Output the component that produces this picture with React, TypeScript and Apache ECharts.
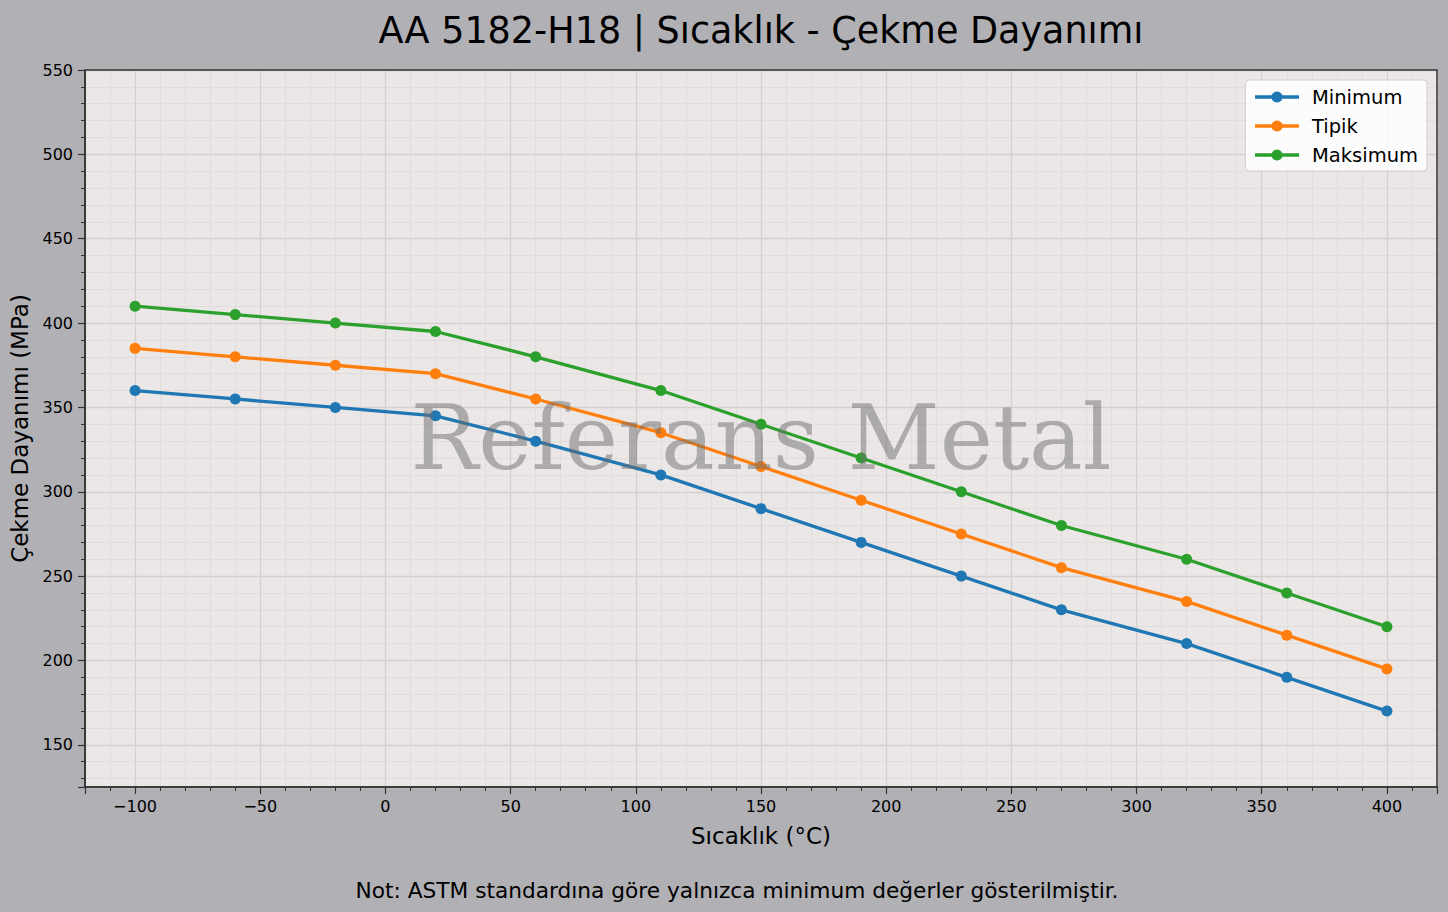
import React, { useEffect, useRef } from 'react';
import * as echarts from 'echarts';

const temperatures = [-100, -60, -20, 20, 60, 110, 150, 190, 230, 270, 320, 360, 400];
const minimumValues = [360, 355, 350, 345, 330, 310, 290, 270, 250, 230, 210, 190, 170];
const typicalValues = [385, 380, 375, 370, 355, 335, 315, 295, 275, 255, 235, 215, 195];
const maximumValues = [410, 405, 400, 395, 380, 360, 340, 320, 300, 280, 260, 240, 220];
const seriesNames = ['Minimum', 'Tipik', 'Maksimum'];
const seriesColors = ['#1f77b4', '#ff7f0e', '#2ca02c'];

const FONT = "'DejaVu Sans', sans-serif";

const App: React.FC = () => {
  const chartRef = useRef<HTMLDivElement>(null);

  useEffect(() => {
    document.body.style.margin = '0';
    if (!chartRef.current) return;
    const chart = echarts.init(chartRef.current, undefined, { renderer: 'svg' });

    const pairs = (vals: number[]) => temperatures.map((t, i) => [t, vals[i]]);
    const allValues = [minimumValues, typicalValues, maximumValues];

    const option = {
      animation: false,
      backgroundColor: '#b1b0b5',
      textStyle: { fontFamily: FONT },
      legend: {
        data: seriesNames,
        right: 21,
        top: 80,
        orient: 'vertical',
        itemWidth: 44,
        itemHeight: 14,
        itemGap: 9,
        padding: [7, 9, 6, 8],
        backgroundColor: 'rgba(255,255,255,0.85)',
        borderColor: '#d0d0d0',
        borderWidth: 1,
        borderRadius: 4,
        lineStyle: { width: 3.3 },
        textStyle: { fontFamily: FONT, fontSize: 19.5, color: '#000', padding: [0, 0, 0, 8] }
      },
      grid: {
        left: 85,
        right: 11,
        top: 70,
        bottom: 125,
        outerBoundsMode: 'none',
        containLabel: false,
        show: true,
        backgroundColor: '#ebe7e6',
        borderWidth: 0
      },
      xAxis: {
        type: 'value',
        min: -120,
        max: 420,
        splitNumber: 11,
        name: 'Sıcaklık (°C)',
        nameLocation: 'middle',
        nameGap: 37,
        nameTextStyle: { fontFamily: FONT, fontSize: 23, color: '#000' },
        axisLine: { show: true, onZero: false, lineStyle: { color: '#333', width: 1.5 } },
        axisTick: { show: true, length: 7, lineStyle: { color: '#333', width: 1.2 } },
        minorTick: { show: true, splitNumber: 5, length: 4, lineStyle: { color: '#333' } },
        axisLabel: {
          fontFamily: FONT,
          fontSize: 16,
          color: '#000',
          margin: 11,
          showMinLabel: false,
          showMaxLabel: false,
          formatter: (v: number) => String(v).replace('-', '\u2212')
        },
        splitLine: { show: true, lineStyle: { color: '#d4d0cf', width: 1.3 } },
        minorSplitLine: { show: true, lineStyle: { color: '#dfdbda', width: 0.8 } }
      },
      yAxis: {
        type: 'value',
        min: 125,
        max: 550,
        splitNumber: 8,
        name: 'Çekme Dayanımı (MPa)',
        nameLocation: 'middle',
        nameGap: 52,
        nameTextStyle: { fontFamily: FONT, fontSize: 23, color: '#000' },
        axisLine: { show: true, onZero: false, lineStyle: { color: '#333', width: 1.5 } },
        axisTick: { show: true, length: 7, lineStyle: { color: '#333', width: 1.2 } },
        minorTick: { show: true, splitNumber: 5, length: 4, lineStyle: { color: '#333' } },
        axisLabel: { fontFamily: FONT, fontSize: 16, color: '#000', margin: 12, showMinLabel: false },
        splitLine: { show: true, lineStyle: { color: '#d4d0cf', width: 1.3 } },
        minorSplitLine: { show: true, lineStyle: { color: '#dfdbda', width: 0.8 } }
      },
      series: seriesNames.map((name, i) => ({
        name,
        type: 'line',
        data: pairs(allValues[i]),
        color: seriesColors[i],
        lineStyle: { width: 3.3 },
        symbol: 'circle',
        symbolSize: 11,
        showSymbol: true,
        z: 3 + i
      })),
      graphic: [
        {
          type: 'rect',
          shape: { x: 85, y: 70, width: 1352, height: 717 },
          style: { fill: 'none', stroke: '#333', lineWidth: 1.5 },
          silent: true,
          z: 50
        },
        {
          type: 'text',
          x: 761,
          y: 30,
          style: {
            text: 'AA 5182-H18 | Sıcaklık - Çekme Dayanımı',
            font: "36.5px 'DejaVu Sans', sans-serif",
            fill: '#000',
            align: 'center',
            verticalAlign: 'middle'
          },
          silent: true
        },
        {
          type: 'text',
          x: 761,
          y: 437,
          style: {
            text: 'Referans Metal',
            font: "90px 'DejaVu Serif', serif",
            fill: 'rgba(110,110,110,0.5)',
            align: 'center',
            verticalAlign: 'middle'
          },
          silent: true,
          z: 100
        },
        {
          type: 'text',
          x: 737,
          y: 890,
          style: {
            text: 'Not: ASTM standardına göre yalnızca minimum değerler gösterilmiştir.',
            font: "21.7px 'DejaVu Sans', sans-serif",
            fill: '#000',
            align: 'center',
            verticalAlign: 'middle'
          },
          silent: true
        }
      ]
    };

    chart.setOption(option);

    const handleResize = () => chart.resize();
    window.addEventListener('resize', handleResize);
    return () => {
      window.removeEventListener('resize', handleResize);
      chart.dispose();
    };
  }, []);

  return <div ref={chartRef} style={{ width: '1448px', height: '912px' }} />;
};

export default App;
